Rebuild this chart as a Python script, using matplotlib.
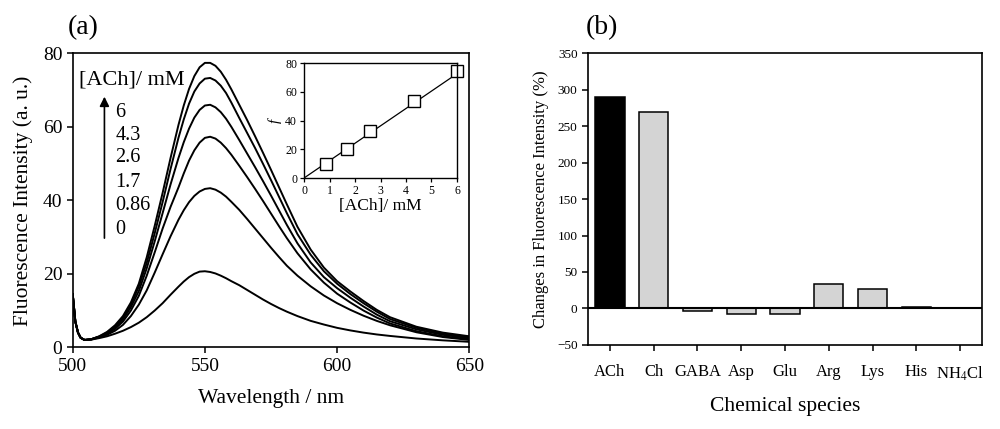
import numpy as np
import matplotlib
matplotlib.use("Agg")
import matplotlib.pyplot as plt

plt.rcParams['font.family'] = ['Liberation Serif', 'DejaVu Serif']
plt.rcParams['mathtext.fontset'] = 'stix'

# ---- panel (a): emission spectra ----
wavelength = [500, 501, 502, 503, 504.5, 507, 510, 513, 516, 519, 522, 525, 528, 531,
              534, 537, 540, 542, 544, 546, 548, 550, 552, 554, 556, 558, 560, 563,
              566, 569, 572, 575, 578, 581, 585, 590, 595, 600, 605, 610, 615, 620,
              630, 640, 650]
spec_6 = [14.5, 7, 4, 2.6, 2.0, 2.2, 3.0, 4.2, 6, 8.5, 12.2, 17.3, 24.5, 33,
          42, 51.5, 60.5, 65.8, 70.3, 73.8, 76.2, 77.4, 77.4, 76.6, 75, 72.8, 70.2, 66,
          61.8, 57.4, 52.9, 48.3, 43.6, 38.9, 32.8, 26.6, 21.7, 18, 15.2, 12.6, 10.2, 8.2,
          5.6, 4, 3]
spec_43 = [14.5, 7, 4, 2.6, 2.0, 2.2, 2.9, 4.0, 5.7, 8.1, 11.6, 16.5, 23, 31,
           39.5, 48.5, 57, 62, 66.3, 69.6, 71.8, 73.1, 73.3, 72.6, 71.2, 69.2, 66.6, 62.4,
           58.3, 54.2, 49.9, 45.5, 41, 36.5, 30.8, 25.2, 20.7, 17.3, 14.5, 12, 9.7, 7.7,
           5.3, 3.7, 2.8]
spec_26 = [14.5, 7, 4, 2.6, 2.0, 2.2, 2.9, 3.9, 5.4, 7.6, 10.9, 15.3, 21.5, 28.8,
           36.5, 44.3, 51.5, 55.8, 59.5, 62.5, 64.6, 65.8, 66, 65.3, 64, 62.2, 60, 56.4,
           52.7, 49, 45.2, 41.3, 37.3, 33.3, 28.3, 23.1, 19.1, 16.1, 13.5, 11.1, 8.9, 7.1,
           4.9, 3.4, 2.5]
spec_17 = [14.5, 7, 4, 2.6, 2.0, 2.2, 2.8, 3.7, 5, 7, 10, 14, 19.5, 25.8,
           32.3, 38.2, 43.5, 47.3, 50.8, 53.6, 55.7, 57, 57.3, 56.8, 55.7, 54.2, 52.4, 49.4,
           46.3, 43.1, 39.8, 36.4, 33, 29.7, 25.6, 21.2, 17.6, 14.6, 12.2, 10, 8.1, 6.5,
           4.4, 3, 2.2]
spec_086 = [14.5, 7, 4, 2.6, 2.0, 2.1, 2.7, 3.4, 4.5, 6.1, 8.5, 11.6, 15.5, 20.3,
            25.3, 30.2, 34.7, 37.3, 39.5, 41.2, 42.4, 43.1, 43.3, 42.9, 42.1, 41, 39.6, 37.4,
            34.9, 32.3, 29.7, 27.1, 24.6, 22.2, 19.5, 16.6, 14.1, 12, 10.2, 8.6, 7.2, 6,
            4.1, 2.8, 2]
spec_0 = [14.5, 7, 4, 2.6, 2.0, 2.1, 2.5, 3.0, 3.7, 4.5, 5.5, 6.7, 8.2, 10,
          12, 14.3, 16.5, 17.9, 19.1, 20, 20.6, 20.7, 20.5, 20.1, 19.5, 18.8, 18, 16.9,
          15.6, 14.3, 13, 11.8, 10.7, 9.7, 8.5, 7.2, 6.2, 5.3, 4.6, 4, 3.5, 3.1,
          2.4, 1.9, 1.5]
legend_conc = ["6", "4.3", "2.6", "1.7", "0.86", "0"]

# inset: f vs [ACh]
ach_conc = [0.86, 1.7, 2.6, 4.3, 6]
f_values = [9.5, 20.5, 33, 53.5, 74.5]
fit_slope = 12.1

# ---- panel (b): selectivity ----
species = ["ACh", "Ch", "GABA", "Asp", "Glu", "Arg", "Lys", "His", "NH$_4$Cl"]
change_pct = [290, 270, -3, -8, -7, 33, 26, 1.5, 0]
bar_colors = ["black"] + ["#d4d4d4"] * 8

fig = plt.figure(figsize=(10, 4.29), dpi=100)

# panel (a)
ax1 = fig.add_axes([0.0727, 0.1904, 0.3966, 0.6853])
for spec in [spec_6, spec_43, spec_26, spec_17, spec_086, spec_0]:
    ax1.plot(wavelength, spec, color="black", lw=1.4)
ax1.set_xlim(500, 650)
ax1.set_ylim(0, 80)
ax1.set_xticks([500, 550, 600, 650])
ax1.set_yticks([0, 20, 40, 60, 80])
ax1.tick_params(direction="out", length=4, width=1.1, labelsize=14)
for s in ax1.spines.values():
    s.set_linewidth(1.2)
ax1.set_xlabel("Wavelength / nm", fontsize=15.5, labelpad=10)
ax1.set_ylabel("Fluorescence Intensity (a. u.)", fontsize=15.5, labelpad=7)
fig.text(0.068, 0.935, "(a)", fontsize=20, va="center", ha="left")

ax1.text(0.016, 0.909, "[ACh]/ mM", transform=ax1.transAxes, fontsize=16,
         va="center", ha="left")
label_y = [0.800, 0.722, 0.644, 0.562, 0.484, 0.402]
for lab, yy in zip(legend_conc, label_y):
    ax1.text(0.107, yy, lab, transform=ax1.transAxes, fontsize=14.5,
             va="center", ha="left")
ax1.annotate("", xy=(0.080, 0.862), xytext=(0.080, 0.362),
             xycoords="axes fraction", textcoords="axes fraction",
             arrowprops=dict(arrowstyle="-|>", color="black", lw=1.2,
                             mutation_scale=14))

# inset
axin = fig.add_axes([0.304, 0.585, 0.153, 0.268])
xfit = np.array([0, 6])
axin.plot(xfit, fit_slope * xfit, color="black", lw=0.9)
axin.plot(ach_conc, f_values, ls="none", marker="s", ms=8, mfc="white",
          mec="black", mew=1.0, clip_on=False)
axin.set_xlim(0, 6)
axin.set_ylim(0, 80)
axin.set_xticks(range(0, 7))
axin.set_yticks([0, 20, 40, 60, 80])
axin.tick_params(direction="out", length=3, width=0.9, labelsize=8.5, pad=2)
for s in axin.spines.values():
    s.set_linewidth(1.0)
axin.set_xlabel("[ACh]/ mM", fontsize=12.5, labelpad=1)
axin.set_ylabel("f", fontsize=11, fontstyle="italic", labelpad=2)

# panel (b)
ax2 = fig.add_axes([0.588, 0.196, 0.394, 0.68])
x = np.arange(len(species))
ax2.bar(x, change_pct, width=0.67, color=bar_colors, edgecolor="black", lw=1.1)
ax2.axhline(0, color="black", lw=1.5)
ax2.set_xlim(-0.5, len(species) - 0.5)
ax2.set_ylim(-50, 350)
ax2.set_yticks(range(-50, 351, 50))
ax2.set_xticks(x)
ax2.set_xticklabels(species, fontsize=12)
ax2.tick_params(axis="y", direction="out", length=4, width=1.1, labelsize=9.5)
ax2.tick_params(axis="x", direction="out", length=4, width=1.1, pad=10)
for s in ax2.spines.values():
    s.set_linewidth(1.2)
ax2.set_xlabel("Chemical species", fontsize=15.5, labelpad=10)
ax2.set_ylabel("Changes in Fluorescence Intensity (%)", fontsize=12, labelpad=6)
fig.text(0.586, 0.935, "(b)", fontsize=20, va="center", ha="left")

fig.savefig("out.png", dpi=100)
